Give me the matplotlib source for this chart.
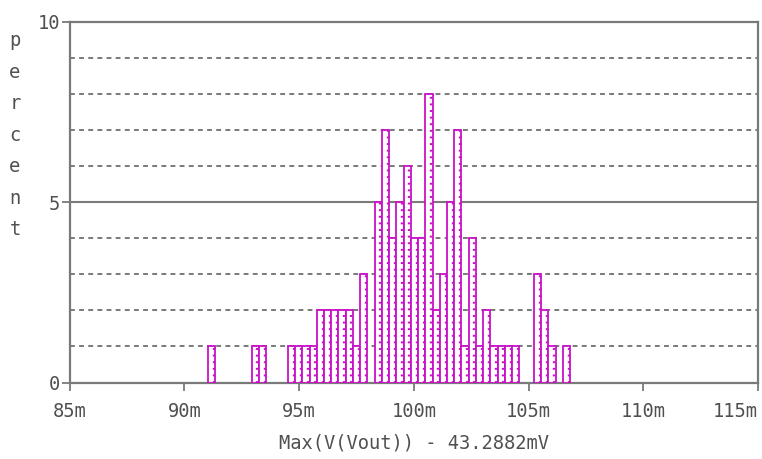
import numpy as np
import matplotlib.pyplot as plt

# Monte Carlo runs: Max(V(Vout)) - 43.2882mV, values in mV
bin_lo, bin_hi = 91.04, 106.80
percent = [1, 0, 0, 0, 0, 0, 1, 1, 0, 0,
           0, 1, 1, 1, 1, 2, 2, 2, 2, 2,
           1, 3, 0, 5, 7, 4, 5, 6, 4, 4,
           8, 2, 3, 5, 7, 1, 4, 1, 2, 1,
           1, 1, 1, 0, 0, 3, 2, 1, 0, 1]
x_ticks = [85, 90, 95, 100, 105, 110, 115]
y_ticks = [0, 5, 10]
x_label = 'Max(V(Vout)) - 43.2882mV'
y_label = 'percent'

MAG = '#c810c8'
GRID = '#7a7a7a'
TXT = '#505050'
plt.rcParams['font.family'] = 'DejaVu Sans Mono'

fig = plt.figure(figsize=(7.62, 4.59), dpi=100)
ax = fig.add_axes([69.6 / 762, 76.5 / 459, (758.2 - 69.6) / 762, (382.5 - 21.7) / 459])

edges = np.linspace(bin_lo, bin_hi, len(percent) + 1)
w = np.diff(edges)
pc = np.array(percent)
nz = pc > 0

# horizontal grid: dashed minor lines, solid at 5
for y in range(1, 10):
    if y == 5:
        ax.axhline(y, color=GRID, lw=1.5, zorder=1)
    else:
        ax.axhline(y, color=GRID, lw=1.4, ls=(0, (2.5, 2.2)), zorder=1)

ax.bar(edges[:-1][nz], pc[nz], width=w[nz], align='edge',
       facecolor='white', edgecolor=MAG, linewidth=1.3, zorder=3)
# dotted fill line inside each bar
ax.vlines(edges[:-1][nz] + 0.8 * w[nz], 0, pc[nz], colors=MAG,
          linewidth=1.7, linestyles=[(0, (0.8, 2.0))], zorder=4)

ax.set_xlim(85, 115)
ax.set_ylim(0, 10)
ax.set_xticks(x_ticks)
ax.set_xticklabels([f'{t}m' for t in x_ticks])
ax.get_xticklabels()[-1].set_horizontalalignment('right')
ax.set_yticks(y_ticks)
ax.set_yticklabels([str(t) for t in y_ticks])
ax.tick_params(direction='out', length=6, width=1.3, color=GRID,
               labelcolor=TXT, labelsize=13.5)
ax.tick_params(axis='x', pad=8)
ax.tick_params(axis='y', pad=1)
for s in ax.spines.values():
    s.set_color(GRID)
    s.set_linewidth(1.6)

ax.set_xlabel(x_label, color=TXT, fontsize=13.5, labelpad=9)

for i, ch in enumerate(y_label):
    fig.text(15 / 762, 1 - (41 + 31.5 * i) / 459, ch, ha='center', va='center',
             color=TXT, fontsize=13.5)

fig.savefig('out.png', dpi=100)
